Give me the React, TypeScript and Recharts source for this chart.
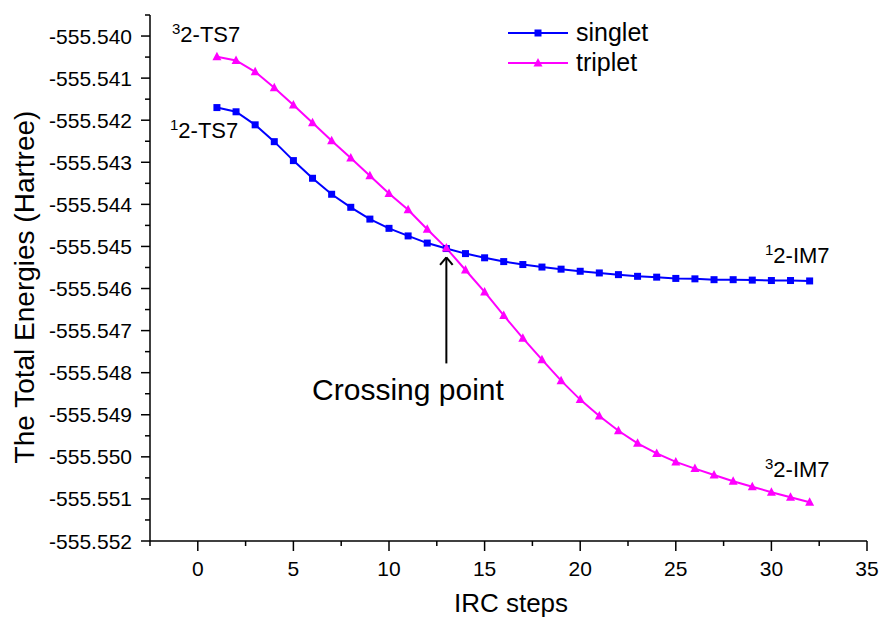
import React from 'react';
import { LineChart, Line, XAxis, YAxis, ReferenceLine, Customized } from 'recharts';

// IRC steps and energies (Hartree)
const steps = [1, 2, 3, 4, 5, 6, 7, 8, 9, 10, 11, 12, 13, 14, 15, 16, 17, 18, 19, 20, 21, 22, 23, 24, 25, 26, 27, 28, 29, 30, 31, 32];

const singlet = [
  -555.5417, -555.5418, -555.54211, -555.54251, -555.54296, -555.54338, -555.54376, -555.54407,
  -555.54435, -555.54457, -555.54475, -555.54492, -555.54505, -555.54517, -555.54527, -555.54536,
  -555.54543, -555.54549, -555.54554, -555.54559, -555.54563, -555.54567, -555.54571, -555.54573,
  -555.54576, -555.54577, -555.54579, -555.54579, -555.5458, -555.54581, -555.54581, -555.54582,
];

const triplet = [
  -555.54049, -555.54058, -555.54085, -555.54123, -555.54164, -555.54206, -555.54249, -555.5429,
  -555.54332, -555.54374, -555.54413, -555.54459, -555.54504, -555.54556, -555.54608, -555.54664,
  -555.54718, -555.54769, -555.54819, -555.54864, -555.54903, -555.54938, -555.54968, -555.54992,
  -555.55012, -555.55028, -555.55043, -555.55058, -555.55071, -555.55084, -555.55096, -555.55108,
];

const xMajorTicks = [0, 5, 10, 15, 20, 25, 30, 35];
const xMinorTicks = [-2.5, 2.5, 7.5, 12.5, 17.5, 22.5, 27.5, 32.5];
const yMajorTicks = [
  -555.54, -555.541, -555.542, -555.543, -555.544, -555.545, -555.546,
  -555.547, -555.548, -555.549, -555.55, -555.551, -555.552,
];
const yMinorTicks = [
  -555.5395, -555.5405, -555.5415, -555.5425, -555.5435, -555.5445, -555.5455,
  -555.5465, -555.5475, -555.5485, -555.5495, -555.5505, -555.5515,
];

// crossing point arrow (x step, tip / tail energies)
const arrowX = 13;
const arrowTip = -555.54526;
const arrowTail = -555.54778;

const FONT = '"Liberation Sans", Arial, sans-serif';
const BLUE = '#0000ff';
const MAGENTA = '#ff00ff';

const data = steps.map((s, i) => ({ step: s, singlet: singlet[i], triplet: triplet[i] }));

const SquareDot = (props: any) => {
  const { cx, cy, index } = props;
  if (cx == null || cy == null) return <g key={index} />;
  return <rect key={index} x={cx - 3.5} y={cy - 3.5} width={7} height={7} fill={BLUE} />;
};

const TriangleDot = (props: any) => {
  const { cx, cy, index } = props;
  if (cx == null || cy == null) return <g key={index} />;
  return <path key={index} d={`M${cx},${cy - 5} L${cx + 4.5},${cy + 3.5} L${cx - 4.5},${cy + 3.5} Z`} fill={MAGENTA} />;
};

const XTick = (props: any) => {
  const { x, y, payload } = props;
  const major = xMajorTicks.includes(payload.value);
  return (
    <g>
      <line x1={x} y1={y} x2={x} y2={y + (major ? 10 : 5)} stroke="#000" strokeWidth={1.5} />
      {major && (
        <text x={x} y={y + 35} textAnchor="middle" fontSize={21} fontFamily={FONT} fill="#000">
          {payload.value}
        </text>
      )}
    </g>
  );
};

const YTick = (props: any) => {
  const { x, y, payload } = props;
  const major = yMajorTicks.includes(payload.value);
  return (
    <g>
      <line x1={x} y1={y} x2={x - (major ? 9 : 5)} y2={y} stroke="#000" strokeWidth={1.5} />
      {major && (
        <text x={x - 18} y={y + 7.5} textAnchor="end" fontSize={21} fontFamily={FONT} fill="#000">
          {payload.value.toFixed(3)}
        </text>
      )}
    </g>
  );
};

const Label = ({ x, y, sup, text }: { x: number; y: number; sup: string; text: string }) => (
  <text x={x} y={y} fontSize={22} fontFamily={FONT} fill="#000">
    <tspan fontSize={15} dy={-8}>{sup}</tspan>
    <tspan dy={8}>{text}</tspan>
  </text>
);

const Annotations = () => (
  <g>
    {/* legend */}
    <line x1={508} y1={33} x2={568} y2={33} stroke={BLUE} strokeWidth={2} />
    <rect x={534.5} y={29.5} width={7} height={7} fill={BLUE} />
    <text x={576} y={41} fontSize={25} fontFamily={FONT} fill="#000">singlet</text>
    <line x1={508} y1={63} x2={568} y2={63} stroke={MAGENTA} strokeWidth={2} />
    <path d="M538,58 L542.5,66.5 L533.5,66.5 Z" fill={MAGENTA} />
    <text x={576} y={71} fontSize={25} fontFamily={FONT} fill="#000">triplet</text>

    <Label x={172} y={42} sup="3" text="2-TS7" />
    <Label x={170} y={138} sup="1" text="2-TS7" />
    <Label x={765} y={263} sup="1" text="2-IM7" />
    <Label x={765} y={477} sup="3" text="2-IM7" />
    <text x={408} y={400} textAnchor="middle" fontSize={30} fontFamily={FONT} fill="#000">Crossing point</text>
    <text x={511} y={612} textAnchor="middle" fontSize={26} fontFamily={FONT} fill="#000">IRC steps</text>
    <text
      x={24}
      y={287}
      textAnchor="middle"
      fontSize={28}
      fontFamily={FONT}
      fill="#000"
      transform="rotate(-90 24 287)"
      dy={10}
    >
      The Total Energies (Hartree)
    </text>
  </g>
);

export default function App() {
  return (
    <div style={{ position: 'absolute', left: 0, top: 0, background: '#fff' }}>
      <LineChart width={882} height={623} data={data} margin={{ top: 15, right: 15, bottom: 32, left: 60 }}>
        <XAxis
          dataKey="step"
          type="number"
          domain={[-2.5, 35]}
          ticks={[...xMinorTicks, ...xMajorTicks].sort((a, b) => a - b)}
          interval={0}
          allowDataOverflow
          tickSize={0}
          tickMargin={0}
          tickLine={false}
          tick={<XTick />}
          axisLine={{ stroke: '#000', strokeWidth: 1.5 }}
          height={50}
        />
        <YAxis
          type="number"
          domain={[-555.552, -555.5395]}
          ticks={[...yMinorTicks, ...yMajorTicks].sort((a, b) => a - b)}
          interval={0}
          allowDataOverflow
          tickSize={0}
          tickMargin={0}
          tickLine={false}
          tick={<YTick />}
          axisLine={{ stroke: '#000', strokeWidth: 1.5 }}
          width={90}
        />
        <Line dataKey="singlet" stroke={BLUE} strokeWidth={2} dot={SquareDot} activeDot={false} isAnimationActive={false} />
        <Line dataKey="triplet" stroke={MAGENTA} strokeWidth={2} dot={TriangleDot} activeDot={false} isAnimationActive={false} />
        <ReferenceLine segment={[{ x: arrowX, y: arrowTail }, { x: arrowX, y: arrowTip }]} stroke="#000" strokeWidth={2} ifOverflow="visible" />
        <ReferenceLine segment={[{ x: arrowX, y: arrowTip }, { x: arrowX - 0.33, y: arrowTip - 0.00018 }]} stroke="#000" strokeWidth={2} ifOverflow="visible" />
        <ReferenceLine segment={[{ x: arrowX, y: arrowTip }, { x: arrowX + 0.33, y: arrowTip - 0.00018 }]} stroke="#000" strokeWidth={2} ifOverflow="visible" />
        <Customized component={Annotations} />
      </LineChart>
    </div>
  );
}
